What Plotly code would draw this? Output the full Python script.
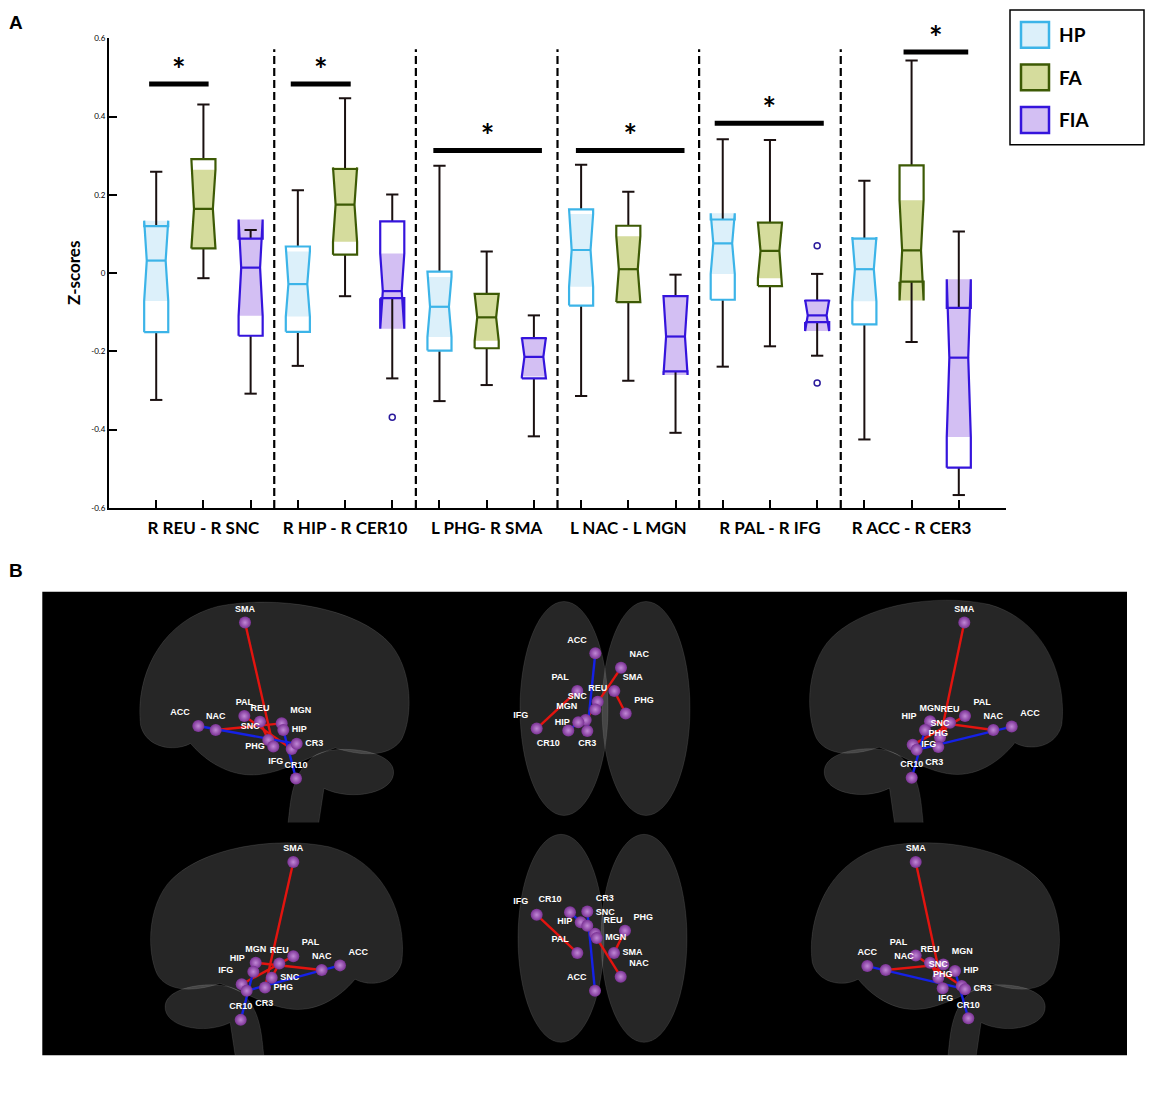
import plotly.graph_objects as go

# panel A: notched box summaries, 6 connections x 3 cohorts (HP, FA, FIA)
GROUPS = ["R REU - R SNC", "R HIP - R CER10", "L PHG- R SMA",
          "L NAC - L MGN", "R PAL - R IFG", "R ACC - R CER3"]
COHORTS = ["HP", "FA", "FIA"]

# values listed group by group, HP / FA / FIA inside each group
UPPER = [0.259, 0.431, 0.110, 0.212, 0.447, 0.201, 0.274, 0.055, -0.108,
         0.277, 0.208, -0.004, 0.342, 0.340, -0.002, 0.236, 0.543, 0.106]
Q3 = [0.120, 0.291, 0.088, 0.068, 0.266, 0.132, 0.004, -0.053, -0.166,
      0.163, 0.121, -0.059, 0.137, 0.129, -0.070, 0.088, 0.275, -0.089]
MEDIAN = [0.032, 0.164, 0.014, -0.028, 0.175, -0.046, -0.086, -0.113, -0.214,
          0.059, 0.010, -0.162, 0.076, 0.057, -0.108, 0.010, 0.058, -0.216]
Q1 = [-0.151, 0.063, -0.160, -0.150, 0.047, -0.064, -0.198, -0.192, -0.269,
      -0.083, -0.074, -0.251, -0.068, -0.033, -0.125, -0.131, -0.022, -0.497]
LOWER = [-0.324, -0.013, -0.308, -0.237, -0.059, -0.269, -0.327, -0.286, -0.417,
         -0.314, -0.275, -0.408, -0.239, -0.187, -0.211, -0.425, -0.176, -0.567]
NOTCH_HI = [0.134, 0.264, 0.137, 0.055, 0.270, 0.050, -0.010, -0.053, -0.164,
            0.151, 0.094, -0.059, 0.153, 0.127, -0.068, 0.092, 0.186, -0.016]
NOTCH_LO = [-0.071, 0.064, -0.109, -0.111, 0.080, -0.142, -0.163, -0.173, -0.264,
            -0.035, -0.074, -0.260, -0.002, -0.013, -0.148, -0.072, -0.070, -0.419]

OUTLIER_POS = [6, 15, 15]
OUTLIER_VAL = [-0.368, 0.070, -0.281]

SIG_FROM = [0.85, 3.85, 6.87, 9.89, 12.83, 16.83]
SIG_TO = [2.11, 5.12, 9.17, 12.19, 15.14, 18.2]
SIG_Y = [0.483, 0.483, 0.313, 0.313, 0.383, 0.565]

Y_TICKS = [-0.6, -0.4, -0.2, 0, 0.2, 0.4, 0.6]
Y_TICK_TEXT = ["-0.6", "-0.4", "-0.2", "0", "0.2", "0.4", "0.6"]

# panel B: node positions (view-local pixels) for the six brain views
NODES = ["SMA", "ACC", "NAC", "PAL", "REU", "MGN", "HIP", "SNC", "PHG", "IFG", "CR3", "CR10"]
EDGES = [("REU", "SNC", "red"), ("HIP", "CR10", "blue"), ("PHG", "SMA", "red"),
         ("NAC", "MGN", "red"), ("PAL", "IFG", "red"), ("ACC", "CR3", "blue")]

V1_X = [125, 78.3, 95.7, 124.3, 140, 161.7, 163.3, 148.3, 153.3, 171.7, 176.7, 176]
V1_Y = [28.3, 132.7, 136.7, 122.7, 128.3, 130, 136.7, 146.7, 153.3, 156, 150.7, 185.7]
V1_LBL = ["top center", "top left", "top center", "top center", "top center", "top right",
          "middle right", "top left", "middle left", "bottom left", "middle right", "top center"]

V2_X = [124.3, 105.3, 131, 87.3, 107.7, 95.7, 88.3, 105.3, 135.7, 46.7, 97.3, 78.3]
V2_Y = [97.3, 59.3, 74, 97.3, 108.3, 126.7, 129, 116, 120, 135.3, 137.7, 137.3]
V2_LBL = ["top right", "top left", "top right", "top left", "top center", "top left",
          "middle left", "top left", "top right", "top left", "bottom center", "bottom left"]

V3_X = [194.3, 241.7, 223.3, 195, 180, 160, 155, 170, 168.3, 142.7, 146.7, 141.7]
V3_Y = [28.3, 133.3, 136.7, 122.7, 129.3, 128, 136.7, 144, 154, 151.7, 156.7, 185]
V3_LBL = ["top center", "top right", "top center", "top right", "top center", "top center",
          "top left", "top center", "top center", "middle right", "bottom right", "top center"]

V4_X = [173.3, 220, 201.7, 173.3, 159.3, 135.7, 133.3, 151.7, 145, 121.7, 126.7, 120.7]
V4_Y = [35, 139.3, 144, 130, 137.3, 136.7, 145.7, 151.7, 161.7, 158.3, 165, 194.3]
V4_LBL = ["top center", "top right", "top center", "top right", "top center", "top center",
          "top left", "middle right", "middle right", "top left", "bottom right", "top center"]

V5_X = [124, 105, 130.7, 87.3, 105, 106.7, 90.7, 97.3, 135, 46.7, 97.3, 80]
V5_Y = [126.7, 165, 150.7, 126.7, 107.3, 111.7, 95.7, 99.3, 104.3, 88.3, 85, 85.7]
V5_LBL = ["middle right", "top left", "top right", "top left", "top right", "middle right",
          "middle left", "top right", "top right", "top left", "top right", "top left"]

V6_X = [145.7, 97.3, 115.7, 145.7, 160, 173.3, 185, 168.3, 172.7, 191.7, 195, 198.3]
V6_Y = [35, 140, 144, 129.3, 136.7, 138.3, 145, 151.7, 162.3, 160, 163.3, 192.7]
V6_LBL = ["top center", "top center", "top right", "top left", "top center", "top right",
          "middle right", "top center", "top center", "bottom left", "middle right", "top center"]

# the page body has an 8px margin, so the figure sits at (8, 8) in the window
OFF = 8
FIG_W, FIG_H = 1154, 1077


def px(x):
    return (x - OFF) / FIG_W


def py_(y):
    return 1 - (y - OFF) / FIG_H


# rough sagittal silhouette, unit box, frontal pole on the left
SAGITTAL = [
    ("M", [(0.02, 0.56)]),
    ("C", [(0.00, 0.36), (0.08, 0.10), (0.30, 0.03)]),
    ("C", [(0.50, -0.02), (0.80, 0.03), (0.92, 0.20)]),
    ("C", [(1.00, 0.32), (1.00, 0.52), (0.96, 0.62)]),
    ("C", [(0.92, 0.70), (0.82, 0.70), (0.72, 0.66)]),
    ("C", [(0.62, 0.70), (0.52, 0.78), (0.42, 0.78)]),
    ("C", [(0.32, 0.78), (0.24, 0.70), (0.20, 0.64)]),
    ("C", [(0.14, 0.68), (0.04, 0.66), (0.02, 0.56)]),
]
CEREBELLUM = [
    ("M", [(0.64, 0.70)]),
    ("C", [(0.70, 0.64), (0.92, 0.66), (0.93, 0.76)]),
    ("C", [(0.94, 0.86), (0.78, 0.90), (0.68, 0.84)]),
    ("L", [(0.66, 1.00)]),
    ("L", [(0.55, 1.00)]),
    ("C", [(0.56, 0.90), (0.56, 0.78), (0.64, 0.70)]),
]


def brain_path(parts, box, mirror):
    x0, y0, x1, y1 = box
    out = []
    for cmd, pts in parts:
        coords = []
        for u, v in pts:
            u = 1 - u if mirror else u
            coords.append("%.1f,%.1f" % (x0 + u * (x1 - x0), y0 + v * (y1 - y0)))
        out.append(cmd + " " + " ".join(coords))
    return " ".join(out) + " Z"


LINE_COL = {"HP": "#3cb4e8", "FA": "#3d5a05", "FIA": "#3514dc"}
FILL_COL = {"HP": "#dcf0fa", "FA": "#d5dc9d", "FIA": "#d3bff3"}
W, D, CAP = 0.255, 0.055, 0.13

fig = go.Figure()

# notch-interval fills
for k, name in enumerate(COHORTS):
    xs, ys = [], []
    for g in range(len(GROUPS)):
        i = g * 3 + k
        c = i + 1
        xs += [c - W, c - W + D, c - W, c + W, c + W - D, c + W, c - W, None]
        ys += [NOTCH_LO[i], MEDIAN[i], NOTCH_HI[i], NOTCH_HI[i], MEDIAN[i], NOTCH_LO[i], NOTCH_LO[i], None]
    fig.add_trace(go.Scatter(x=xs, y=ys, mode="lines", fill="toself", fillcolor=FILL_COL[name],
                             line=dict(width=0), hoverinfo="skip", showlegend=False))

# whiskers
wx, wy = [], []
for i in range(len(MEDIAN)):
    c = i + 1
    wx += [c, c, None, c - CAP, c + CAP, None, c, c, None, c - CAP, c + CAP, None]
    wy += [Q3[i], UPPER[i], None, UPPER[i], UPPER[i], None, Q1[i], LOWER[i], None, LOWER[i], LOWER[i], None]
fig.add_trace(go.Scatter(x=wx, y=wy, mode="lines", line=dict(color="#1a1010", width=2),
                         hoverinfo="skip", showlegend=False))

# box outlines and medians
for k, name in enumerate(COHORTS):
    xs, ys = [], []
    for g in range(len(GROUPS)):
        i = g * 3 + k
        c = i + 1
        xs += [c - W, c - W, c - W + D, c - W, c - W, c + W, c + W, c + W - D, c + W, c + W, c - W, None,
               c - W + D, c + W - D, None]
        ys += [Q1[i], NOTCH_LO[i], MEDIAN[i], NOTCH_HI[i], Q3[i], Q3[i], NOTCH_HI[i], MEDIAN[i],
               NOTCH_LO[i], Q1[i], Q1[i], None, MEDIAN[i], MEDIAN[i], None]
    fig.add_trace(go.Scatter(x=xs, y=ys, mode="lines", line=dict(color=LINE_COL[name], width=2.2),
                             hoverinfo="skip", showlegend=False))

fig.add_trace(go.Scatter(x=OUTLIER_POS, y=OUTLIER_VAL, mode="markers",
                         marker=dict(symbol="circle-open", size=6, color="#2a1a9c", line=dict(width=1.5)),
                         showlegend=False))

# significance bars
bx, by = [], []
for a, b, y in zip(SIG_FROM, SIG_TO, SIG_Y):
    bx += [a, b, None]
    by += [y, y, None]
fig.add_trace(go.Scatter(x=bx, y=by, mode="lines", line=dict(color="black", width=5),
                         hoverinfo="skip", showlegend=False, cliponaxis=False))
fig.add_trace(go.Scatter(x=[(a + b) / 2 for a, b in zip(SIG_FROM, SIG_TO)],
                         y=[y + 0.026 for y in SIG_Y], mode="text", text=["*"] * len(SIG_Y),
                         textposition="middle center", cliponaxis=False,
                         textfont=dict(family="Lato", size=32, color="black", weight="bold"),
                         hoverinfo="skip", showlegend=False))

shapes = []
for g in range(1, len(GROUPS)):
    shapes.append(dict(type="line", xref="x", yref="y", x0=g * 3 + 0.5, x1=g * 3 + 0.5,
                       y0=-0.6, y1=0.572, line=dict(color="black", width=2.2, dash="8px,4px")))

# legend box drawn by hand so the swatches can be large
shapes.append(dict(type="rect", xref="paper", yref="paper", x0=px(1010), x1=px(1144),
                   y0=py_(141), y1=py_(5), line=dict(color="black", width=1.5)))
annotations = []
for k, name in enumerate(COHORTS):
    yc = 30 + 43 * k
    shapes.append(dict(type="rect", xref="paper", yref="paper", x0=px(1021), x1=px(1049),
                       y0=py_(yc + 13), y1=py_(yc - 13), fillcolor=FILL_COL[name],
                       line=dict(color=LINE_COL[name], width=2.5)))
    annotations.append(dict(xref="paper", yref="paper", x=px(1057), y=py_(yc), text="<b>%s</b>" % name,
                            showarrow=False, xanchor="left", yanchor="middle",
                            font=dict(family="Lato", size=19, color="black")))

annotations += [
    dict(xref="paper", yref="paper", x=px(7), y=py_(18), text="<b>A</b>", showarrow=False,
         xanchor="left", yanchor="middle", font=dict(family="Liberation Sans", size=19, color="black")),
    dict(xref="paper", yref="paper", x=px(7), y=py_(571), text="<b>B</b>", showarrow=False,
         xanchor="left", yanchor="middle", font=dict(family="Liberation Sans", size=19, color="black")),
    dict(xref="paper", yref="y", x=px(73), y=0, text="<b>Z-scores</b>", showarrow=False, textangle=-90,
         xanchor="center", yanchor="middle", font=dict(family="Lato", size=17, color="black")),
]

# panel B
shapes.append(dict(type="rect", xref="paper", yref="paper", x0=px(42.3), x1=px(1127),
                   y0=py_(1060), y1=py_(592.3), fillcolor="black", line=dict(width=0), layer="below"))

VIEW_BOXES = [(120, 595, 300, 230), (490, 595, 210, 230), (770, 595, 300, 230),
              (120, 830, 300, 230), (490, 830, 210, 230), (770, 830, 300, 230)]
VIEW_DATA = [(V1_X, V1_Y, V1_LBL), (V2_X, V2_Y, V2_LBL), (V3_X, V3_Y, V3_LBL),
             (V4_X, V4_Y, V4_LBL), (V5_X, V5_Y, V5_LBL), (V6_X, V6_Y, V6_LBL)]
# ("sag", box, mirrored) for side views, ("ax", [hemisphere ellipses]) for top views
BRAIN_SHAPES = [
    ("sag", (15, 5, 293, 232), False),
    ("ax", [(30, 7, 118, 223), (112, 7, 200, 223)]),
    ("sag", (36, 3, 297, 232), True),
    ("sag", (27, 13, 287, 232), True),
    ("ax", [(28, 7, 114, 217), (111, 7, 197, 217)]),
    ("sag", (37, 13, 293, 232), False),
]
BRAIN_FILL = "rgba(255,255,255,0.15)"
BRAIN_EDGE = "rgba(255,255,255,0.10)"

layout_axes = {}
for j, ((ox, oy, w, h), (vx, vy, vl)) in enumerate(zip(VIEW_BOXES, VIEW_DATA)):
    n = j + 2
    xa, ya = "x%d" % n, "y%d" % n
    layout_axes["xaxis%d" % n] = dict(domain=[px(ox), px(ox + w)], range=[0, w], visible=False,
                                      anchor=ya, fixedrange=True)
    layout_axes["yaxis%d" % n] = dict(domain=[py_(oy + h), py_(oy)], range=[h, 0], visible=False,
                                      anchor=xa, fixedrange=True)
    kind = BRAIN_SHAPES[j]
    if kind[0] == "sag":
        for parts in (CEREBELLUM, SAGITTAL):
            shapes.append(dict(type="path", xref=xa, yref=ya, layer="below",
                               path=brain_path(parts, kind[1], kind[2]),
                               fillcolor=BRAIN_FILL, line=dict(color=BRAIN_EDGE, width=1)))
    else:
        for (x0, y0, x1, y1) in kind[1]:
            shapes.append(dict(type="circle", xref=xa, yref=ya, x0=x0, x1=x1, y0=y0, y1=y1, layer="below",
                               fillcolor=BRAIN_FILL, line=dict(color=BRAIN_EDGE, width=1)))
    pos = {name: (x, y) for name, x, y in zip(NODES, vx, vy)}
    for col, lc in (("red", "#e3140f"), ("blue", "#1521e6")):
        ex, ey = [], []
        for a, b, c in EDGES:
            if c == col:
                ex += [pos[a][0], pos[b][0], None]
                ey += [pos[a][1], pos[b][1], None]
        fig.add_trace(go.Scatter(x=ex, y=ey, xaxis=xa, yaxis=ya, mode="lines",
                                 line=dict(color=lc, width=2.4), hoverinfo="skip", showlegend=False))
    fig.add_trace(go.Scatter(x=vx, y=vy, xaxis=xa, yaxis=ya, mode="markers+text", text=NODES,
                             textposition=vl,
                             marker=dict(size=12, color="#7a3194",
                                         gradient=dict(type="radial", color="#c188d6")),
                             textfont=dict(family="Liberation Sans", size=9, color="white", weight="bold"),
                             hoverinfo="text", showlegend=False))

fig.update_layout(
    width=FIG_W, height=FIG_H, margin=dict(l=0, r=0, t=0, b=0),
    paper_bgcolor="white", plot_bgcolor="rgba(0,0,0,0)", showlegend=False,
    xaxis=dict(domain=[px(109), px(1006)], range=[0, 19], tickmode="array",
               tickvals=list(range(1, 19)),
               ticktext=["<b>%s</b>" % GROUPS[i // 3] if i % 3 == 1 else "" for i in range(18)],
               ticks="inside", ticklen=8, tickwidth=1.5, tickcolor="black",
               showline=True, linecolor="black", linewidth=2, showgrid=False, zeroline=False,
               ticklabelstandoff=4, tickfont=dict(family="Lato", size=17, color="black"), fixedrange=True),
    yaxis=dict(domain=[py_(507.6), py_(33.5)], range=[-0.6, 0.6], tickmode="array",
               tickvals=Y_TICKS, ticktext=Y_TICK_TEXT,
               ticks="inside", ticklen=8, tickwidth=1.5, tickcolor="black",
               showline=True, linecolor="black", linewidth=2, showgrid=False, zeroline=False,
               tickfont=dict(family="Lato", size=8, color="black"), fixedrange=True),
    shapes=shapes, annotations=annotations,
    **layout_axes,
)

fig.write_html("out.html")
